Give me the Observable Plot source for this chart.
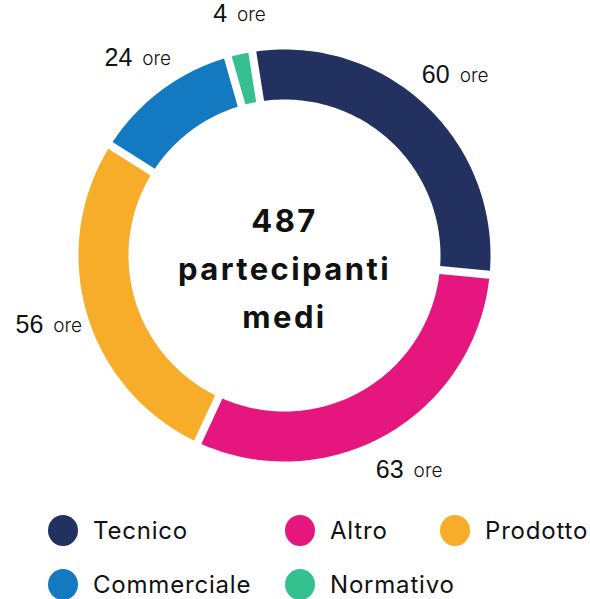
<!DOCTYPE html>
<html>
<head>
<meta charset="utf-8">
<script src="https://cdn.jsdelivr.net/npm/d3@7"></script>
<script src="https://cdn.jsdelivr.net/npm/@observablehq/plot@0.6"></script>
<style>
  html, body { margin: 0; padding: 0; background: #fff; }
  #wrap { width: 590px; height: 599px; overflow: hidden; position: relative; font-family: "Inter", "Open Sans", sans-serif; }
  #legend { display: grid; grid-template-columns: 237px 155px 160px; grid-auto-rows: 54px; padding-left: 48px; margin-top: 15px; }
  .item { display: flex; align-items: center; white-space: nowrap; font-size: 24px; letter-spacing: 0.8px; color: #111; }
  .sw { width: 30px; height: 31px; border-radius: 50%; margin-right: 15px; flex: none; }
</style>
</head>
<body>
<div id="wrap"><div id="chart"></div><div id="legend"></div></div>
<script>
const names = ["Tecnico", "Altro", "Prodotto", "Commerciale", "Normativo"];
const hours = [60, 63, 56, 24, 4];
const colors = ["#22315f", "#e5167e", "#f7ad2a", "#137ac2", "#35c18f"];
const centerLines = ["487", "partecipanti", "medi"];
const unitLabel = "ore";

// layout (pixels)
const W = 590, H = 488, CX = 284, CY = 255, R = 206;
const innerFrac = 156 / 206, gapPx = 8, labelFrac = 1.2;
const startDeg = -9;

const data = names.map((n, i) => ({name: n, value: hours[i]}));
const arcs = d3.pie().sort(null).value(d => d.value)
  .startAngle(startDeg * Math.PI / 180)
  .endAngle(startDeg * Math.PI / 180 + 2 * Math.PI)(data);

// polygon points in unit (radius) coordinates
const ring = [];
for (const a of arcs) {
  const ro = 1, ri = innerFrac;
  const dOut = (gapPx / 2) / (R * ro), dIn = (gapPx / 2) / (R * ri);
  const N = 80;
  const pts = [];
  for (let k = 0; k <= N; k++) {
    const t = a.startAngle + dOut + (a.endAngle - a.startAngle - 2 * dOut) * k / N;
    pts.push({x: ro * Math.sin(t), y: ro * Math.cos(t)});
  }
  for (let k = N; k >= 0; k--) {
    const t = a.startAngle + dIn + (a.endAngle - a.startAngle - 2 * dIn) * k / N;
    pts.push({x: ri * Math.sin(t), y: ri * Math.cos(t)});
  }
  pts.push(pts[0]);
  for (const p of pts) ring.push({...p, name: a.data.name});
}

const labels = arcs.map(a => {
  const m = (a.startAngle + a.endAngle) / 2;
  return {x: labelFrac * Math.sin(m), y: labelFrac * Math.cos(m), value: a.data.value};
});

const chart = Plot.plot({
  width: W, height: H, margin: 0,
  style: {background: "transparent"},
  x: {domain: [-CX / R, (W - CX) / R], range: [0, W], axis: null},
  y: {domain: [-(H - CY) / R, CY / R], range: [H, 0], axis: null},
  color: {domain: names, range: colors},
  marks: [
    Plot.line(ring, {x: "x", y: "y", z: "name", fill: "name", stroke: "none", curve: "linear"}),
    Plot.text([centerLines.join("\n")], {x: 0, y: 0, text: d => d, fontSize: 31, fontWeight: 700,
      lineHeight: 1.55, dy: 9, fill: "#111", fontFamily: "Inter, 'Open Sans', sans-serif"}),
    Plot.text(labels, {x: "x", y: "y", text: d => String(d.value), textAnchor: "end", dx: -4,
      fontSize: 25, fill: "#111", fontFamily: "'Liberation Sans', Arial, sans-serif"}),
    Plot.text(labels, {x: "x", y: "y", text: () => unitLabel, textAnchor: "start", dx: 6, dy: 1,
      fontSize: 19, fill: "#111", fontFamily: "Inter, 'Open Sans', sans-serif", fontWeight: 300})
  ]
});
document.getElementById("chart").appendChild(chart);
// widen the bold centre label to match the reference's geometric face
d3.select(chart).selectAll("g[aria-label='text']").filter((d, i) => i === 0)
  .style("letter-spacing", "2.4px");

const legend = document.getElementById("legend");
names.forEach((n, i) => {
  const it = document.createElement("div");
  it.className = "item";
  const sw = document.createElement("span");
  sw.className = "sw";
  sw.style.background = colors[i];
  it.appendChild(sw);
  it.appendChild(document.createTextNode(n));
  legend.appendChild(it);
});
</script>
</body>
</html>
